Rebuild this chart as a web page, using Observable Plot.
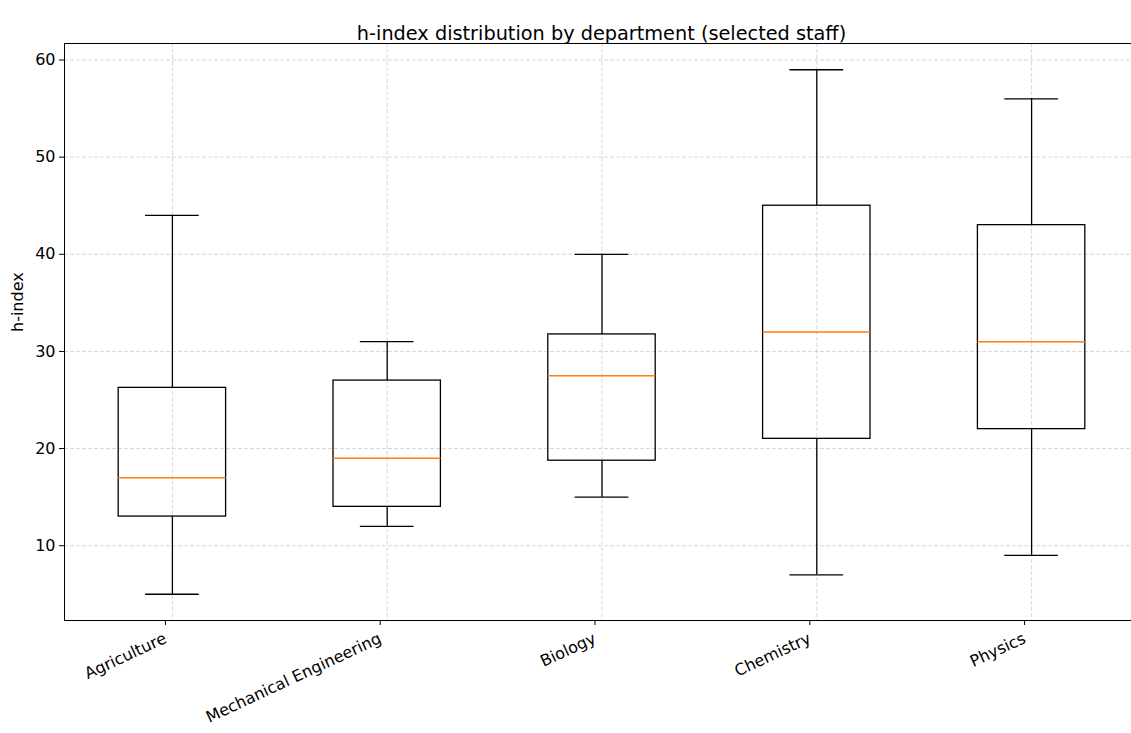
<!DOCTYPE html>
<html><head><meta charset="utf-8">
<script src="https://cdn.jsdelivr.net/npm/d3@7"></script>
<script src="https://cdn.jsdelivr.net/npm/@observablehq/plot@0.6"></script>
<style>
html,body{margin:0;padding:0;background:#fff;overflow:hidden;}
#chart svg{overflow:hidden !important;display:block;}
</style>
</head><body><div id="chart"></div>
<script>
const departments = ["Agriculture", "Mechanical Engineering", "Biology", "Chemistry", "Physics"];
const whiskerLow  = [5, 12, 15, 7, 9];
const q1Values    = [13, 14, 18.75, 21, 22];
const medians     = [17, 19, 27.5, 32, 31];
const q3Values    = [26.25, 27, 31.75, 45, 43];
const whiskerHigh = [44, 31, 40, 59, 56];
const yTicks = [10, 20, 30, 40, 50, 60];

const data = departments.map((d, i) => ({
  dept: d, lo: whiskerLow[i], q1: q1Values[i], med: medians[i], q3: q3Values[i], hi: whiskerHigh[i]
}));

const x0 = 64.5, x1 = 1138.5;
const bw = (x1 - x0) / departments.length;
const font = "DejaVu Sans, sans-serif";
const gridStyle = {stroke: "#b0b0b0", strokeOpacity: 0.55, strokeDasharray: "4,2", strokeWidth: 0.9};

const chart = Plot.plot({
  width: 1131, height: 733,
  marginTop: 43, marginBottom: 113, marginLeft: 64, marginRight: 0,
  style: {fontFamily: font, fontSize: "16px", background: "#fff", color: "#000"},
  x: {type: "band", domain: departments, range: [x0, x1], padding: 0, round: false},
  y: {domain: [2.3, 61.7], range: [620, 43]},
  marks: [
    Plot.gridY(yTicks, gridStyle),
    Plot.gridX(departments, gridStyle),
    Plot.frame({stroke: "#000", strokeWidth: 1}),
    Plot.ruleX(data, {x: "dept", y1: "q3", y2: "hi", stroke: "#000", strokeWidth: 1.3}),
    Plot.ruleX(data, {x: "dept", y1: "lo", y2: "q1", stroke: "#000", strokeWidth: 1.3}),
    Plot.tickY(data, {x: "dept", y: "hi", stroke: "#000", strokeWidth: 1.3, insetLeft: bw * 0.375, insetRight: bw * 0.375}),
    Plot.tickY(data, {x: "dept", y: "lo", stroke: "#000", strokeWidth: 1.3, insetLeft: bw * 0.375, insetRight: bw * 0.375}),
    Plot.barY(data, {x: "dept", y1: "q1", y2: "q3", fill: "none", stroke: "#000", strokeWidth: 1.3, insetLeft: bw / 4, insetRight: bw / 4}),
    Plot.tickY(data, {x: "dept", y: "med", stroke: "#ff7f0e", strokeWidth: 1.6, insetLeft: bw / 4, insetRight: bw / 4}),
    Plot.axisY(yTicks, {tickSize: 5, tickPadding: 4, label: null, fontSize: 16, stroke: "#000"}),
    Plot.axisX(departments, {tickSize: 5, tickPadding: 12, dx: -7, tickRotate: -25, label: null, fontSize: 16, stroke: "#000"}),
    Plot.text(["h-index"], {frameAnchor: "left", rotate: -90, dx: -47, fontSize: 16, fill: "#000"}),
    Plot.text(["h-index distribution by department (selected staff)"], {frameAnchor: "top", dy: -17, dx: 3.5, fontSize: 19.3, fill: "#000"})
  ]
});
document.getElementById("chart").appendChild(chart);
</script>
</body></html>
